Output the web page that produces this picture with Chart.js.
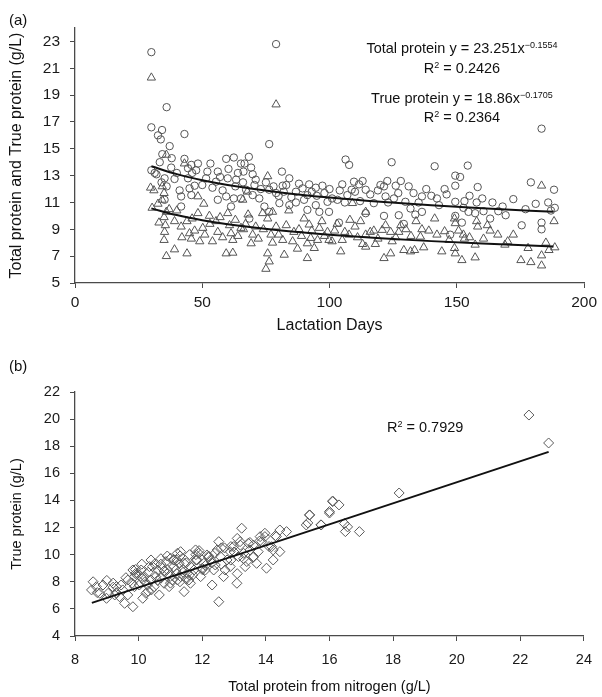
<!DOCTYPE html>
<html>
<head>
<meta charset="utf-8">
<script src="https://cdn.jsdelivr.net/npm/chart.js@4/dist/chart.umd.min.js"></script>
<style>
  html, body { margin: 0; padding: 0; background: #fff; }
  #wrap { position: relative; width: 602px; height: 697px; overflow: hidden; background: #fff;
          font-family: "Liberation Sans", Arial, sans-serif; color: #111; }
  canvas { position: absolute; left: 0; }
  .txt { position: absolute; font-size: 14.5px; line-height: 16px; white-space: nowrap; }
  .ctr { text-align: center; }
  .sup { font-size: 9px; vertical-align: 5px; line-height: 0; }
</style>
</head>
<body>
<div id="wrap">
  <canvas id="chartA" width="602" height="345" style="top:0px"></canvas>
  <canvas id="chartB" width="602" height="352" style="top:345px"></canvas>

  <div class="txt" style="left:9px; top:12px; font-size:15px;">(a)</div>
  <div class="txt" style="left:9px; top:358px; font-size:15px;">(b)</div>

  <div class="txt ctr" style="left:342px; width:240px; top:40px;">Total protein y = 23.251x<span class="sup">&#8722;0.1554</span></div>
  <div class="txt ctr" style="left:342px; width:240px; top:60px;">R<span class="sup">2</span> = 0.2426</div>
  <div class="txt ctr" style="left:342px; width:240px; top:90px;">True protein y = 18.86x<span class="sup">&#8722;0.1705</span></div>
  <div class="txt ctr" style="left:342px; width:240px; top:109px;">R<span class="sup">2</span> = 0.2364</div>

  <div class="txt" style="left:387px; top:419px;">R<span class="sup">2</span> = 0.7929</div>
</div>
<script>
// ---------- Panel (a) data ----------
const totalDays = [30,79,36,
  30,32.6,34.2,33.7,37.2,43,34.3,33.3,43,45.7,48.3,53.2,59.4,62.4,30,31.3,37.8,44.4,47.6,56.1,60.3,65.2,35.2,39.1,44.4,51.5,55.4,60,63.3,41.1,45,47,41.7,45.7,56.1,59.4,62.4,65.2,35.2,41.7,61.3,32,34,36,
  76.3,68.3,66.6,69.2,69.8,66.2,81.3,84.2,81.6,70.5,76.3,79,86.8,92,94.6,97.2,89.4,106.3,107.7,105,109.6,111.6,114.2,108.7,107,124.4,122.7,121.4,126,122,125.3,129.8,69.8,67.2,72.4,74.4,80.3,84.2,86.8,91.3,94.6,99.2,103.1,96,99.8,91.3,103.7,114.2,117.4,121.4,127.2,129.2,131.8,68.5,76.3,
  183.3,141.3,154.3,149.4,151.3,145.2,149.4,158.2,131.1,179.1,188.2,136.3,142.2,149.4,153,157.8,172.2,185.9,188.5,136.3,152.6,154.6,157.2,160.5,166.3,169.2,163.1,149.4,152,175.5,183.3,183.3,147.4,133.7,
  38,40,46,50,52,54,57,58,63,64,66,71,73,75,78,80,82,83,85,88,90,93,95,98,100,101,104,106,110,112,113,116,119,120,123,127,128,133,135,138,140,143,146,155,160,164,168,177,181,187];
const totalValues = [22.2,22.8,18.1,
  16.6,16.0,16.4,15.7,15.2,16.1,14.6,14.0,14.25,13.8,13.9,13.9,14.25,14.35,13.4,13.2,13.6,13.55,13.4,13.3,13.5,13.9,12.8,12.75,12.8,12.8,12.55,12.8,12.7,11.9,12.05,12.25,11.45,11.55,11.2,11.45,11.3,11.3,11.2,10.7,10.7,13.1,12.5,12.2,
  15.35,14.4,13.9,13.6,13.1,13.3,13.3,12.8,12.25,12.3,11.95,11.7,11.8,12.35,12.1,12.25,12.05,14.2,13.8,12.35,12.55,12.35,11.95,11.95,11.55,14.0,12.6,12.2,12.25,11.45,11.3,11.05,11.55,11.95,11.3,10.7,10.95,10.8,11.0,10.45,10.8,11.05,11.2,10.3,10.3,11.55,9.5,10.2,10.95,10.0,10.05,9.4,10.55,9.8,10.3,
  16.5,13.7,13.75,13.0,12.9,12.0,12.25,12.15,12.2,12.5,11.95,11.45,11.3,11.05,11.1,11.0,11.25,11.0,10.6,10.3,10.6,10.3,10.2,10.35,10.35,10.05,9.8,10.0,9.5,9.3,9.5,9.0,8.6,10.1,
  14.3,13.2,13.2,12.3,13.3,12.1,12.9,11.9,12.2,13.2,12.5,12.7,12.0,12.5,12.2,11.5,11.8,12.3,11.4,12.4,11.2,11.8,11.5,11.7,12.0,11.3,11.9,11.0,11.8,11.1,12.6,11.6,11.9,12.3,11.0,11.7,12.6,11.7,11.0,12.0,11.5,10.8,11.6,11.5,11.3,11.0,10.7,10.5,10.9,10.4];

const trueDays = [30,79,
  35.9,29.7,31,34.3,35,34.2,32.6,30.3,35.9,35,35.5,35.2,35,35.9,39.1,44,39.1,41.7,44,45,45.7,50.2,48.3,50.6,48.3,52.8,55.4,56.1,60,60.7,61.3,62,59.4,62,65.2,43,67.7,
  75.7,65.9,73.7,77.6,75.7,66.2,69.2,69.8,77,77.6,75.7,75,76.3,82.2,81.6,85.5,87.4,91.3,92.6,91.3,92,95.3,99.8,99.2,104.4,105,107.7,109,112.2,114.2,114.2,114.2,117.4,120.7,124,127.2,124.6,124,121.4,129.2,84,88,97,102,110,118,130,
  183.3,188.2,141.3,149.1,149.4,157.8,158.2,163.1,166.1,172.2,142.2,145.2,150.7,152.6,153,157.2,160.5,168.9,136.3,135.7,137,133.4,131.8,144.1,149.1,149.4,152,157.2,175.2,179.1,183.3,183.3,186.2,188.5,
  33,37,40,42,46,47,49,51,53,54,57,58,63,64,67,68,71,72,74,79,80,83,86,89,90,93,94,96,98,101,103,106,108,111,113,116,119,122,126,128,132,134,139,147,155,162,170,178,185];
const trueValues = [20.3,18.3,
  14.55,12.1,11.9,12.2,11.7,11.2,10.9,10.6,10.3,9.9,9.3,8.8,8.2,7.0,7.5,7.2,9.6,9.2,9.6,8.7,8.3,9.1,10.2,10.9,11.45,10.0,9.6,8.8,10.2,9.3,8.7,8.2,7.2,7.25,9.1,13.9,11.8,
  12.95,11.2,10.2,10.3,9.8,9.0,7.95,8.6,8.6,8.0,7.2,6.05,6.6,7.1,8.2,8.1,7.55,7.95,8.35,6.85,9.35,8.2,8.2,8.8,7.35,8.2,8.6,10.95,9.6,8.6,7.7,10.3,8.9,8.95,8.8,8.8,8.1,7.2,6.85,7.45,10.4,9.0,9.6,8.9,9.2,7.9,9.0,
  12.25,9.6,9.8,9.8,9.45,9.6,9.2,8.9,8.6,8.6,8.6,8.85,8.9,8.6,8.3,7.85,8.3,7.85,9.0,8.45,7.65,7.45,7.35,7.35,7.6,7.2,6.7,6.9,6.7,6.55,6.3,7.05,7.45,7.65,
  9.5,10.5,10.4,8.4,9.8,8.9,8.1,8.6,9.4,8.1,9.9,8.4,9.7,8.5,9.4,10.1,9.2,8.3,9.0,9.2,8.6,9.3,8.8,8.5,9.8,8.9,7.6,9.1,8.5,8.1,9.4,8.8,9.7,8.4,7.9,8.8,8.3,9.3,8.4,9.3,8.5,9.6,8.9,8.2,8.4,9.3,8.1,7.6,8.0];

// Fitted curves
const trendDays  = [30, 40, 50, 60, 80, 100, 120, 140, 160, 188];
const totalTrend = [13.70, 13.11, 12.66, 12.31, 11.77, 11.37, 11.05, 10.79, 10.57, 10.30];
const trueTrend  = [10.56, 10.06, 9.68, 9.38, 8.93, 8.60, 8.34, 8.12, 7.94, 7.72];

const xTicksA = [0, 50, 100, 150, 200];
const yTicksA = [5, 7, 9, 11, 13, 15, 17, 19, 21, 23];

// ---------- Panel (b) data ----------
const nitrogenTotal = [22.27,22.89,18.19,16.1,16.3,16.0,15.38,15.32,15.73,16.47,16.57,16.5,16.94,
  8.57,8.52,8.67,8.88,9.04,8.99,9.3,9.4,9.5,9.56,9.82,9.66,9.82,9.87,10.02,10.13,10.23,10.34,10.39,10.49,10.6,10.65,10.8,10.91,11.01,11.06,11.17,11.22,11.27,11.32,11.43,11.53,11.63,11.79,11.84,11.95,12.1,12.15,12.31,12.41,12.52,12.52,12.72,12.78,12.88,13.09,13.14,13.19,13.24,13.35,13.45,13.61,13.71,13.87,13.97,14.02,14.18,14.23,14.44,14.33,14.65,14.44,15.27,15.37,15.74,16.0,16.1,
  9.97,10.18,10.7,10.96,11.43,11.58,11.74,11.89,12.05,12.26,12.57,12.67,12.88,12.98,13.3,13.4,13.5,13.76,13.82,13.97,14.23,9.45,9.25,8.78,10.08,10.44,10.75,10.86,11.12,11.32,10.54,10.28,9.87,9.66,12.47,12.36,11.63,11.22,10.39,
  10.9,11.1,11.0,11.4,11.2,10.7,11.6,12.0,12.2,11.8,10.1,9.2,12.9,13.6,11.5,10.3,9.9,11.3,12.6,13.1,
  9.6,9.8,9.9,10.0,10.1,10.2,10.3,10.4,10.5,10.6,10.7,10.8,10.9,11.0,11.1,11.2,11.3,11.4,11.5,11.6,11.7,11.8,11.9,12.0,12.1,12.2,12.3,12.4,12.6,12.7,12.9,13.0,13.1,13.2,13.3,13.5,13.6,13.8,14.1,14.3,9.2,9.0,9.3,8.7];
const nitrogenTrue = [20.3,18.24,14.55,13.96,13.67,13.07,12.93,12.34,12.2,12.3,12.05,11.7,11.7,
  8.0,7.4,7.64,7.76,7.15,6.78,7.64,6.9,7.4,6.41,6.16,8.13,8.87,8.38,7.76,6.78,7.15,9.12,8.13,7.64,8.87,7.03,7.89,8.62,9.73,8.13,8.87,10.1,9.36,8.38,7.27,8.62,9.12,10.35,9.61,8.38,8.87,9.98,7.76,9.24,6.53,10.96,8.87,9.61,10.22,7.89,9.86,10.96,11.95,9.12,10.84,9.86,9.36,10.96,11.33,9.0,10.59,9.61,10.22,11.33,11.7,11.82,12.19,12.93,12.19,13.18,13.91,
  8.62,8.38,8.26,7.64,9.36,8.13,8.87,10.1,9.36,9.61,9.86,8.38,9.12,10.59,10.1,9.49,10.35,10.22,11.33,11.58,10.35,7.76,7.03,7.15,8.87,9.12,8.99,9.49,9.61,10.22,8.38,7.76,7.64,7.03,10.35,8.87,7.89,8.13,9.61,
  8.9,9.1,8.4,8.7,9.6,9.3,8.5,9.0,9.9,10.0,8.3,7.9,10.6,10.7,8.2,7.3,8.6,8.0,10.5,11.2,
  8.3,7.9,8.9,8.5,9.3,8.0,8.7,7.4,9.3,8.1,9.7,8.8,9.9,7.9,9.6,8.6,9.9,8.9,9.4,10.0,8.5,9.6,10.3,8.9,9.2,9.8,9.4,10.1,9.3,10.5,9.6,10.2,8.6,10.7,9.7,10.9,9.8,11.0,10.6,11.4,7.6,8.1,7.2,7.2];

const lineBx = [8.53, 22.89];
const lineBy = [6.44, 17.58];

const xTicksB = [8, 10, 12, 14, 16, 18, 20, 22, 24];
const yTicksB = [4, 6, 8, 10, 12, 14, 16, 18, 20, 22];

// ---------- helpers ----------
const FONT = '"Liberation Sans", Arial, sans-serif';
const pts = (xs, ys) => xs.map((x, i) => ({x: x, y: ys[i]}));
const AXIS = '#4a4a4a';

function axisBase(opts) {
  return {
    type: 'linear',
    min: opts.min, max: opts.max,
    afterBuildTicks: s => { s.ticks = opts.ticks.map(v => ({value: v})); },
    grid: { drawOnChartArea: false, drawTicks: true, tickLength: 5, color: AXIS, lineWidth: 1 },
    border: { display: true, color: AXIS, width: 1.3 },
    ticks: { font: {family: FONT, size: opts.tickSize}, color: '#1a1a1a', padding: opts.tickPad, maxRotation: 0, autoSkip: false },
    title: { display: true, text: opts.title, font: {family: FONT, size: opts.titleSize}, color: '#111', padding: opts.titlePad },
    afterFit: opts.fit
  };
}

Chart.defaults.font.family = FONT;

new Chart(document.getElementById('chartA'), {
  type: 'scatter',
  data: {
    datasets: [
      { label: 'Total protein trend', data: pts(trendDays, totalTrend), showLine: true, pointRadius: 0,
        borderColor: '#111', borderWidth: 2, cubicInterpolationMode: 'monotone', fill: false },
      { label: 'True protein trend', data: pts(trendDays, trueTrend), showLine: true, pointRadius: 0,
        borderColor: '#111', borderWidth: 2, cubicInterpolationMode: 'monotone', fill: false },
      { label: 'Total protein', data: pts(totalDays, totalValues), pointStyle: 'circle', pointRadius: 3.7,
        borderColor: '#555', backgroundColor: 'rgba(0,0,0,0)', pointBorderWidth: 1, borderWidth: 1 },
      { label: 'True protein', data: pts(trueDays, trueValues), pointStyle: 'triangle', pointRadius: 4.8,
        borderColor: '#555', backgroundColor: 'rgba(0,0,0,0)', pointBorderWidth: 1, borderWidth: 1 }
    ]
  },
  options: {
    responsive: false, animation: false, devicePixelRatio: 1,
    layout: { padding: { top: 28, right: 16, left: 0, bottom: 0 } },
    plugins: { legend: { display: false }, tooltip: { enabled: false } },
    scales: {
      x: axisBase({ min: 0, max: 200, ticks: xTicksA, tickPad: 5, tickSize: 15.5, titleSize: 16, title: 'Lactation Days',
                    titlePad: {top: 0, bottom: 10}, fit: s => { s.height = 62; } }),
      y: axisBase({ min: 5, max: 24, ticks: yTicksA, tickPad: 10, tickSize: 15.5, titleSize: 16, title: 'Total protein and True protein (g/L)',
                    titlePad: {top: 7, bottom: 0}, fit: s => { s.width = 75; } })
    }
  }
});

new Chart(document.getElementById('chartB'), {
  type: 'scatter',
  data: {
    datasets: [
      { label: 'Linear fit', data: pts(lineBx, lineBy), showLine: true, pointRadius: 0,
        borderColor: '#111', borderWidth: 2, fill: false },
      { label: 'True protein vs total protein from nitrogen', data: pts(nitrogenTotal, nitrogenTrue),
        pointStyle: 'rectRot', pointRadius: 5, borderColor: '#5a5a5a', backgroundColor: 'rgba(0,0,0,0)',
        pointBorderWidth: 1, borderWidth: 1 }
    ]
  },
  options: {
    responsive: false, animation: false, devicePixelRatio: 1,
    layout: { padding: { top: 47, right: 13, left: 0, bottom: 0 } },
    plugins: { legend: { display: false }, tooltip: { enabled: false } },
    scales: {
      x: axisBase({ min: 8, max: 24, ticks: xTicksB, tickPad: 10, tickSize: 14.5, titleSize: 14.5, title: 'Total protein from nitrogen (g/L)',
                    titlePad: {top: 0, bottom: 1}, fit: s => { s.height = 61; } }),
      y: axisBase({ min: 4, max: 22, ticks: yTicksB, tickPad: 10, tickSize: 14.5, titleSize: 14.5, title: 'True protein (g/L)',
                    titlePad: {top: 8, bottom: 0}, fit: s => { s.width = 75; } })
    }
  }
});
</script>
</body>
</html>
